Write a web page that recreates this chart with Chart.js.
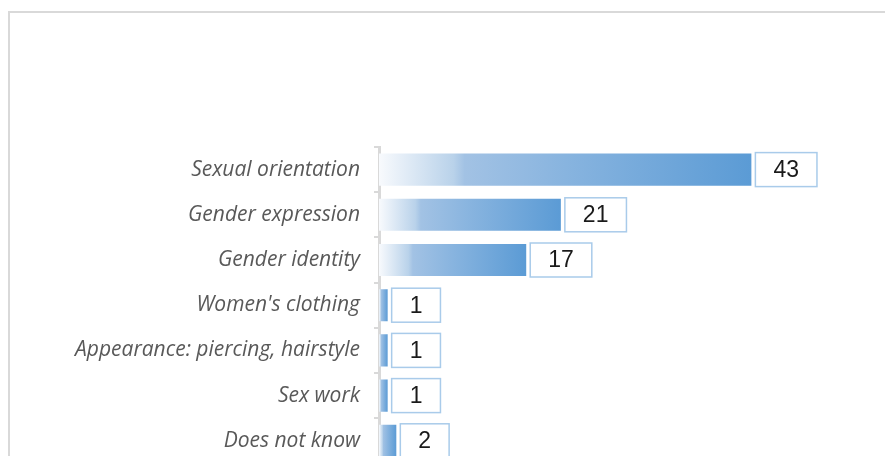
<!DOCTYPE html>
<html>
<head>
<meta charset="utf-8">
<script src="https://cdn.jsdelivr.net/npm/chart.js@4"></script>
<style>
  html, body { margin: 0; padding: 0; background: #fff; overflow: hidden; width: 885px; height: 456px; }
  #frame { position: absolute; left: 8px; top: 11px; width: 900px; height: 500px; border-left: 2px solid #d9d9d9; border-top: 2px solid #d9d9d9; }
  #productMainChart { position: absolute; left: 0; top: 0; }
</style>
</head>
<body>
<div id="frame"></div>
<canvas id="productMainChart" width="885" height="490"></canvas>
<script>
// data
const categories = ['Sexual orientation', 'Gender expression', 'Gender identity', "Women's clothing", 'Appearance: piercing, hairstyle', 'Sex work', 'Does not know'];
const counts = [43, 21, 17, 1, 1, 1, 2];

const ctx = document.getElementById('productMainChart').getContext('2d');

// per bar gradient, white at the axis -> blue at the bar end
function barFill(c) {
  const chart = c.chart;
  if (!chart.chartArea || c.raw === undefined) return '#5b9bd5';
  const xs = chart.scales.x;
  const x0 = xs.getPixelForValue(0);
  const x1 = xs.getPixelForValue(c.raw);
  if (x1 - x0 < 1) return '#5b9bd5';
  const g = chart.ctx.createLinearGradient(x0, 0, x1, 0);
  g.addColorStop(0, '#f8fafd');
  g.addColorStop(0.2, '#b9d2ea');
  g.addColorStop(0.23, '#a2c2e4');
  g.addColorStop(0.5, '#88b4df');
  g.addColorStop(1, '#5b9bd5');
  return g;
}

// boxed value labels to the right of each bar
const boxLabels = {
  id: 'boxLabels',
  afterDatasetsDraw(chart) {
    const c = chart.ctx;
    const meta = chart.getDatasetMeta(0);
    c.save();
    c.font = '23px "Liberation Sans", Arial, sans-serif';
    c.textAlign = 'center';
    c.textBaseline = 'middle';
    meta.data.forEach((bar, i) => {
      const txt = String(counts[i]);
      const w = c.measureText(txt).width + 36;
      const h = 34;
      const left = bar.x + 4;
      const top = bar.y - h / 2;
      c.fillStyle = '#ffffff';
      c.fillRect(left, top, w, h);
      c.strokeStyle = '#a9cbea';
      c.lineWidth = 1.5;
      c.strokeRect(left, top, w, h);
      c.fillStyle = '#1a1a1a';
      c.fillText(txt, left + w / 2, bar.y + 1);
    });
    c.restore();
  }
};

const data = {
  labels: categories,
  datasets: [{
    label: 'Count',
    data: counts,
    backgroundColor: barFill,
    borderWidth: 0,
    categoryPercentage: 1,
    barPercentage: 0.71
  }]
};

const config = {
  type: 'bar',
  data,
  options: {
    indexAxis: 'y',
    responsive: false,
    animation: false,
    layout: { padding: { top: 147, bottom: 9, left: 0, right: 73 } },
    scales: {
      x: {
        display: false,
        min: 0,
        max: 50
      },
      y: {
        afterFit: s => { s.width = 379; },
        border: { color: '#d9d9d9', width: 3 },
        grid: { drawOnChartArea: false, drawTicks: true, tickLength: 5, color: '#d9d9d9', lineWidth: 2 },
        ticks: {
          color: '#595959',
          padding: 14,
          font: { family: '"Open Sans", sans-serif', size: 21, style: 'italic' }
        }
      }
    },
    plugins: {
      legend: { display: false },
      tooltip: { enabled: false }
    }
  },
  plugins: [boxLabels]
};

const myChart = new Chart(ctx, config);
</script>
</body>
</html>
